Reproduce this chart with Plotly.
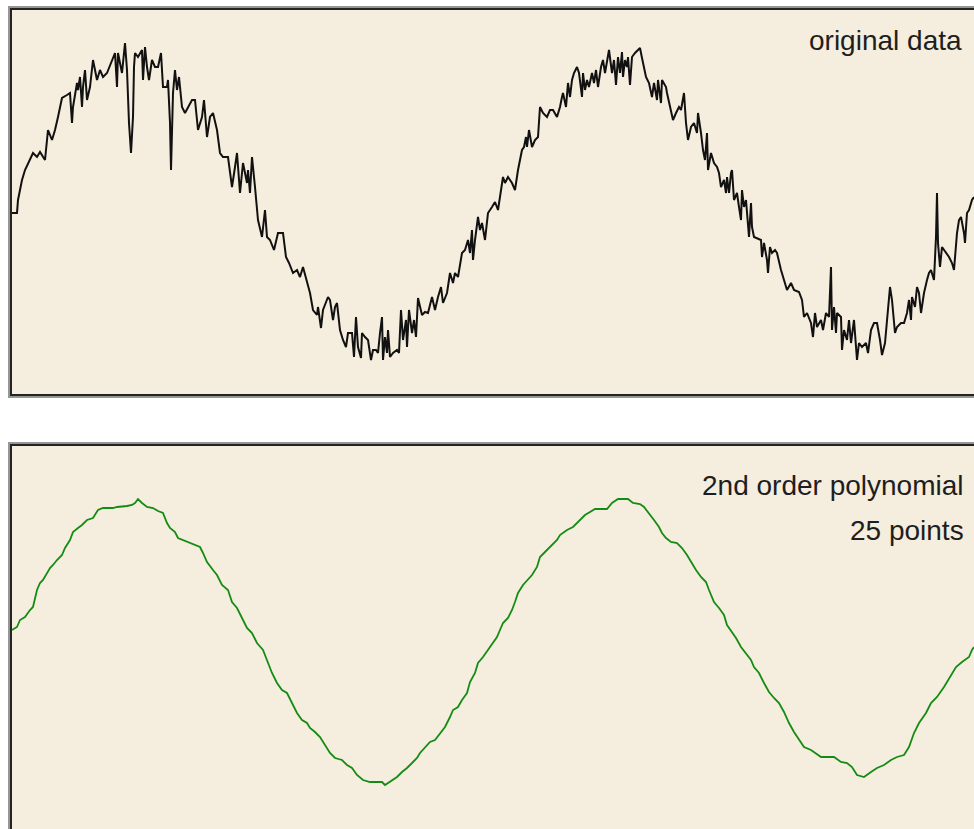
import plotly.graph_objects as go

# ---------------- data ----------------
# original (noisy) signal: sample index and amplitude
raw_x = [1, 6, 7, 11, 14, 17, 22, 26, 29, 34, 37, 41, 44, 47, 51, 56, 59, 61, 62, 66,
         67, 69, 71, 72, 74, 76, 79, 82, 86, 89, 92, 96, 101, 104, 106, 107, 111, 114, 116, 118,
         120, 122, 123, 124, 127, 131, 132, 134, 136, 138, 141, 144, 147, 150, 152, 156, 157, 159, 160, 162,
         164, 166, 168, 171, 174, 177, 181, 184, 187, 191, 193, 196, 199, 202, 206, 209, 212, 217, 221, 224,
         226, 229, 232, 236, 237, 239, 241, 244, 247, 251, 254, 256, 259, 263, 267, 272, 275, 278, 282, 286,
         289, 292, 296, 299, 302, 306, 307, 310, 312, 315, 317,
         319, 322, 324, 326, 329, 332, 335, 337, 341, 343, 345, 347, 350, 351, 354, 357, 360, 362, 365, 367,
         369, 371, 372, 374, 376, 377, 379, 382, 386, 388, 390, 392, 395, 396, 398, 401, 403, 405, 407, 411,
         414, 417, 421, 424, 427, 430, 432, 436, 439, 442, 444, 447, 451, 454, 457, 459, 461, 462, 464, 467,
         469, 471, 474, 477, 481, 484, 487, 491, 492, 494, 497, 501, 504, 507, 511, 513, 515, 516, 518, 521,
         524, 527, 529, 532, 536, 539, 542, 546, 549, 551, 552, 555, 557, 559, 561, 563, 566, 568, 571, 572,
         574, 576, 578, 581, 583, 585, 587, 590, 592, 594, 596, 598, 601, 603, 605, 607, 609, 611, 612, 614,
         616, 617, 619, 621, 624, 627, 629, 631,
         633, 635, 638, 641, 643, 646, 647, 650, 651, 655, 656, 660, 662, 665, 668, 670, 673, 675, 677, 680,
         683, 686, 687, 690, 692, 694, 696, 697, 700, 703, 706, 708, 710, 713, 715, 716, 718, 720, 721, 723,
         726, 728, 730, 731, 733, 735, 736, 738, 740, 741, 743, 746, 750, 751, 753, 756, 757, 759, 761, 764,
         766, 770, 773, 776, 780, 783, 788, 791, 793, 796, 800, 802, 804, 806, 810, 812, 815, 818, 820, 821,
         823, 825, 826, 830, 831, 833, 836, 838, 840, 843, 846, 848, 851, 855, 857, 860, 863, 866, 869, 871,
         874, 876, 879, 881, 884, 886, 890, 893, 896, 898, 900, 901, 904, 906, 908, 910, 913, 916, 918, 920,
         923, 925, 926, 927, 929, 931, 935, 938, 941, 943, 946, 948, 950, 953, 954, 956, 958, 961, 963]
raw_y = [-13, -13, 0, 20, 30, 37, 47, 43, 48, 40, 70, 60, 70, 83, 102, 105, 107, 77, 93, 117,
         110, 123, 93, 113, 130, 100, 113, 140, 120, 130, 123, 127, 140, 147, 113, 147, 127, 157, 130, 77,
         47, 83, 133, 147, 143, 150, 120, 153, 133, 120, 140, 133, 133, 147, 113, 113, 120, 77, 30, 107,
         130, 110, 123, 93, 87, 93, 100, 100, 70, 83, 100, 63, 83, 87, 70, 47, 43, 43, 13, 33,
         47, 7, 37, 17, 30, 7, 43, 13, -20, -37, -10, -37, -40, -50, -33, -33, -57, -63, -73, -70,
         -77, -67, -83, -93, -110, -115, -107, -128, -110, -103, -97,
         -100, -120, -107, -103, -130, -140, -147, -133, -133, -157, -117, -147, -158, -133, -137, -140, -160, -150, -150, -153,
         -133, -117, -160, -137, -153, -130, -157, -153, -150, -153, -110, -140, -120, -147, -110, -133, -120, -137, -98, -115,
         -112, -113, -97, -110, -97, -87, -103, -93, -73, -83, -73, -77, -53, -50, -40, -53, -30, -60, -40, -17,
         -30, -23, -40, -13, -7, -2, -10, 13, 23, 17, 23, 17, 10, 30, 50, 53, 63, 53, 70, 53,
         60, 63, 93, 87, 83, 90, 90, 83, 93, 103, 107, 93, 117, 103, 120, 127, 133, 127, 103, 127,
         110, 120, 113, 127, 117, 130, 113, 133, 140, 127, 137, 150, 127, 140, 115, 143, 127, 148, 123, 140,
         133, 143, 115, 143, 147, 150, 152, 142,
         133, 123, 117, 103, 117, 100, 120, 97, 120, 113, 107, 90, 80, 87, 93, 90, 107, 77, 60, 73,
         77, 67, 87, 67, 50, 40, 67, 30, 47, 37, 33, 27, 13, 20, 7, 23, 7, 27, 30, 0,
         7, -7, -20, 10, -7, 0, -13, -37, -3, -27, -37, -38, -40, -57, -43, -60, -73, -47, -53, -50,
         -53, -70, -80, -90, -83, -90, -92, -100, -117, -113, -123, -137, -113, -127, -120, -130, -113, -117, -67, -130,
         -107, -133, -113, -117, -150, -130, -140, -120, -143, -120, -160, -143, -147, -143, -153, -130, -123, -123, -140, -155,
         -143, -120, -87, -100, -133, -127, -123, -123, -113, -100, -120, -97, -107, -87, -93, -113, -93, -80, -73, -70,
         -80, -37, 7, -43, -67, -47, -53, -57, -63, -70, -33, -20, -17, -33, -43, -13, -10, 0, 3]

# Savitzky-Golay smoothed signal (2nd order polynomial, 25 points)
smooth_x = [1, 6, 9, 14, 19, 22, 26, 29, 32, 36, 39, 42, 46, 51, 54, 59, 62, 67, 71, 76,
            82, 87, 92, 102, 106, 116, 121, 124, 127, 131, 136, 142, 147, 152, 156, 159, 164, 167, 172, 179,
            186, 189, 192, 196, 202, 206, 211, 217, 221, 226, 231, 236, 241, 246, 252, 256, 261, 266, 271, 276,
            281, 286, 291, 296, 299, 304, 309, 314, 319, 324, 331, 336, 341, 346, 352, 359, 371, 374, 377, 381,
            386, 391, 396, 401, 406, 409, 414, 419, 424, 429, 434, 439, 442, 447, 451, 456, 459, 464, 467, 472,
            477, 482, 486, 489, 492, 497, 501, 504, 507, 512, 517, 521, 526, 529, 534, 539, 546, 549, 556, 562,
            569, 574, 579, 584, 596, 601, 607, 617, 622, 629, 633, 638, 643, 648, 651, 655, 660, 666, 671, 676,
            680, 685, 690, 695, 698, 703, 708, 713, 716, 721, 725, 730, 735, 740, 743, 748, 753, 758, 763, 768,
            773, 778, 783, 788, 793, 800, 810, 823, 830, 836, 841, 846, 853, 860, 866, 873, 880, 886, 893, 898,
            903, 908, 915, 920, 926, 933, 940, 945, 951, 958, 961, 963]
smooth_y = [7, 10, 17, 20, 27, 30, 47, 54, 57, 64, 69, 72, 77, 82, 89, 97, 105, 109, 112, 117,
            119, 127, 129, 129, 130, 131, 132, 134, 138, 134, 130, 129, 126, 124, 114, 109, 105, 99, 97, 94,
            91, 90, 84, 75, 67, 62, 52, 47, 35, 29, 19, 9, 4, -6, -13, -23, -36, -46, -53, -56,
            -66, -76, -83, -86, -91, -95, -100, -108, -116, -121, -123, -128, -131, -138, -143, -145, -145, -148, -146, -143,
            -140, -135, -131, -126, -121, -116, -110, -105, -103, -96, -90, -80, -73, -70, -63, -56, -45, -36, -26, -20,
            -13, -6, 0, 7, 14, 19, 27, 35, 44, 52, 57, 62, 70, 80, 85, 90, 97, 102, 107, 110,
            117, 122, 125, 128, 128, 134, 138, 138, 134, 133, 130, 124, 117, 110, 104, 99, 95, 94, 89, 82,
            75, 67, 60, 55, 47, 35, 29, 22, 12, 5, -1, -10, -16, -23, -30, -36, -46, -55, -61, -66,
            -75, -86, -95, -103, -110, -113, -120, -120, -125, -126, -130, -138, -140, -135, -131, -128, -123, -120, -118, -110,
            -96, -86, -76, -66, -60, -50, -38, -30, -25, -20, -13, -10]

labels_top = ["original data"]
labels_bottom = ["2nd order polynomial", "25 points"]

# ---------------- layout constants (pixels) ----------------
W, H = 974, 829
BG = "rgb(245,237,221)"


def px_x(p):
    return p / W


def px_y(p):
    return (H - p) / H


fig = go.Figure()
fig.add_trace(go.Scatter(x=raw_x, y=raw_y, mode="lines",
                         line=dict(color="#111111", width=2),
                         xaxis="x", yaxis="y", hoverinfo="skip"))
fig.add_trace(go.Scatter(x=smooth_x, y=smooth_y, mode="lines",
                         line=dict(color="rgb(20,140,20)", width=1.8),
                         xaxis="x2", yaxis="y2", hoverinfo="skip"))

axis_common = dict(showgrid=False, zeroline=False, showticklabels=False,
                   ticks="", showline=False, fixedrange=True)

fig.update_layout(
    width=W, height=H,
    margin=dict(l=0, r=0, t=0, b=0, pad=0),
    paper_bgcolor="white", plot_bgcolor=BG,
    showlegend=False,
    xaxis=dict(domain=[px_x(11), 1], range=[0, 963], anchor="y", **axis_common),
    yaxis=dict(domain=[px_y(395), px_y(9)], range=[-195, 191], anchor="x", **axis_common),
    xaxis2=dict(domain=[px_x(11), 1], range=[0, 963], anchor="y2", **axis_common),
    yaxis2=dict(domain=[0, px_y(445)], range=[-192, 192], anchor="x2", **axis_common),
)

# panel frames (gray outer edge + dark line), open on the right / bottom where the image is cut
shapes = []
for top, bottom in [(9, 395), (445, 835)]:
    shapes.append(dict(type="path", xref="paper", yref="paper",
                       path=f"M {px_x(980)} {px_y(top - 2)} L {px_x(9)} {px_y(top - 2)} "
                            f"L {px_x(9)} {px_y(bottom + 2)} L {px_x(980)} {px_y(bottom + 2)}",
                       line=dict(color="rgb(150,150,150)", width=2)))
    shapes.append(dict(type="path", xref="paper", yref="paper",
                       path=f"M {px_x(980)} {px_y(top)} L {px_x(11)} {px_y(top)} "
                            f"L {px_x(11)} {px_y(bottom)} L {px_x(980)} {px_y(bottom)}",
                       line=dict(color="rgb(35,35,35)", width=2)))
fig.update_layout(shapes=shapes)

font = dict(family="Liberation Sans, Arial, sans-serif", size=28, color="#1e1e1e")
anns = [
    dict(text=labels_top[0], x=px_x(964), y=px_y(41), xref="paper", yref="paper",
         xanchor="right", yanchor="middle", showarrow=False, font=font),
    dict(text=labels_bottom[0], x=px_x(966), y=px_y(486), xref="paper", yref="paper",
         xanchor="right", yanchor="middle", showarrow=False, font=font),
    dict(text=labels_bottom[1], x=px_x(966), y=px_y(530), xref="paper", yref="paper",
         xanchor="right", yanchor="middle", showarrow=False, font=font),
]
fig.update_layout(annotations=anns)

fig.write_html("out.html", config={"displayModeBar": False},
               post_script="document.body.style.margin='0';document.body.style.overflow='hidden';")
